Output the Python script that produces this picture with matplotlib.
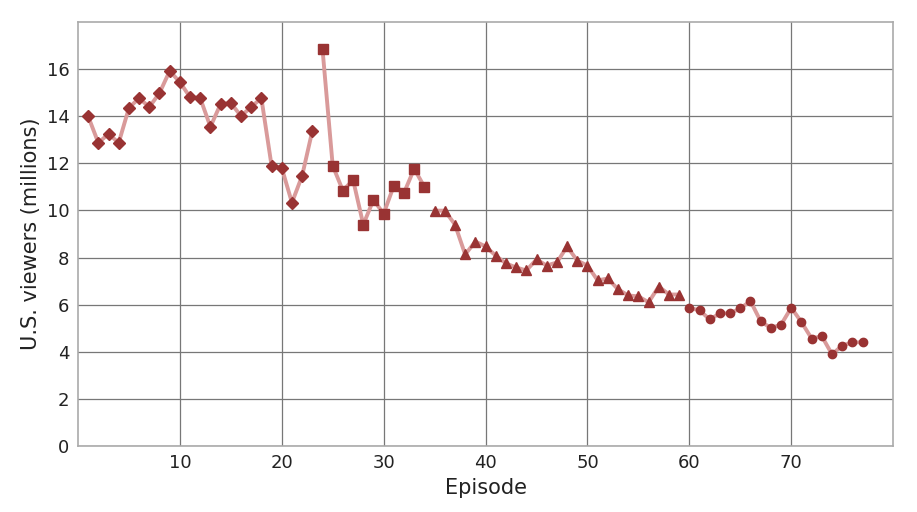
import matplotlib
matplotlib.use("Agg")
import matplotlib.pyplot as plt
import numpy as np

episodes = list(range(1, 78))
viewers = [14.0, 12.87, 13.25, 12.87, 14.35, 14.77, 14.39, 14.98, 15.92, 15.45,
           14.81, 14.77, 13.55, 14.52, 14.56, 14.01, 14.39, 14.77, 11.9, 11.81,
           10.33, 11.47, 13.38, 16.85, 11.9, 10.84, 11.3, 9.4, 10.45, 9.86,
           11.05, 10.75, 11.77, 11.0, 9.99, 9.99, 9.4, 8.13, 8.68, 8.47,
           8.08, 7.75, 7.58, 7.45, 7.92, 7.66, 7.79, 8.47, 7.87, 7.66,
           7.03, 7.11, 6.65, 6.39, 6.35, 6.1, 6.77, 6.43, 6.43, 5.86,
           5.76, 5.37, 5.63, 5.63, 5.84, 6.15, 5.29, 5.01, 5.15, 5.87,
           5.26, 4.56, 4.66, 3.89, 4.26, 4.4, 4.4]
season_ranges = [(1, 23), (24, 34), (35, 59), (60, 77)]
season_markers = ['D', 's', '^', 'o']
xticks = [10, 20, 30, 40, 50, 60, 70]
yticks = [0, 2, 4, 6, 8, 10, 12, 14, 16]

fig = plt.figure(figsize=(9.17, 5.12), dpi=100)
ax = fig.add_axes([0.085, 0.129, 0.889, 0.828])

ep = np.array(episodes)
vw = np.array(viewers)
line_color = '#d99a9a'
mark_color = '#993333'
for (a, b), m in zip(season_ranges, season_markers):
    sel = (ep >= a) & (ep <= b)
    ax.plot(ep[sel], vw[sel], color=line_color, lw=2.8, zorder=2)
    ax.plot(ep[sel], vw[sel], linestyle='none', marker=m, color=mark_color,
            markersize=6.5 if m != 'o' else 6, zorder=3)

ax.set_xlim(0, 80)
ax.set_ylim(0, 18)
ax.set_xticks(xticks)
ax.set_yticks(yticks)
ax.grid(True, color='#777777', lw=0.9)
ax.set_axisbelow(True)
for s in ax.spines.values():
    s.set_color('#aaaaaa')
    s.set_linewidth(1.2)
ax.tick_params(length=0, labelsize=13, pad=6, colors='#222222')
ax.set_xlabel('Episode', fontsize=15, color='#222222')
ax.set_ylabel('U.S. viewers (millions)', fontsize=15, color='#222222')

fig.savefig('out.png', dpi=100)
